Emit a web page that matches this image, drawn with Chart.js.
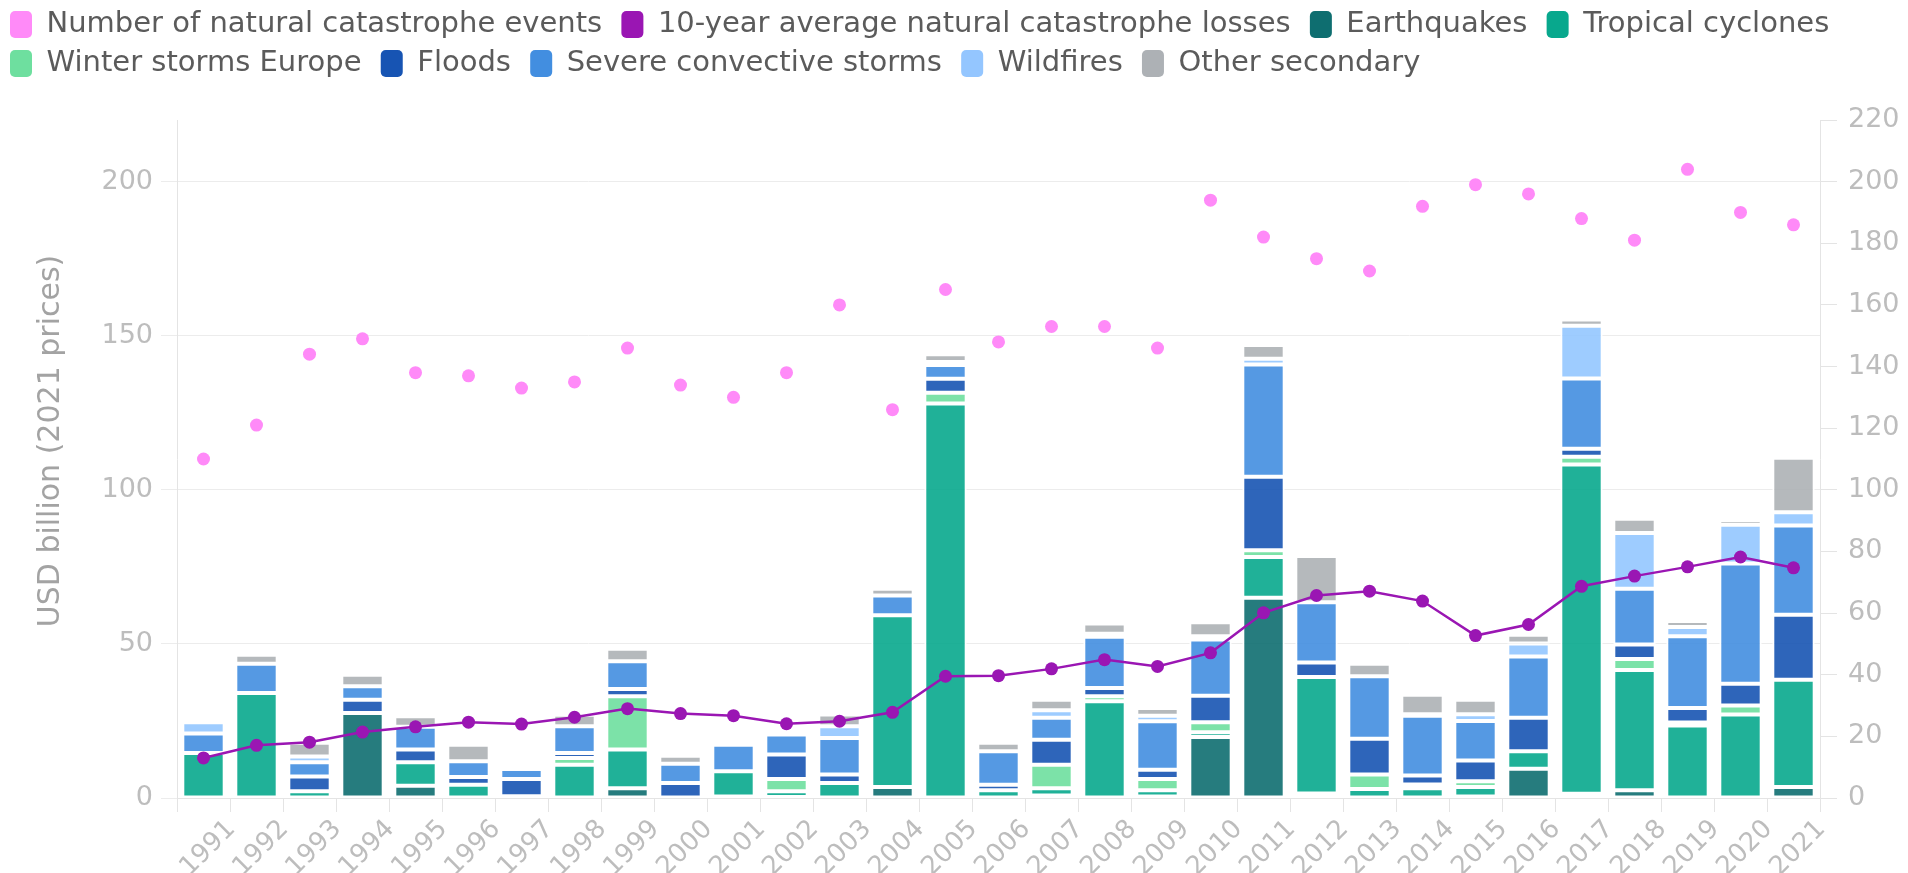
<!DOCTYPE html>
<html>
<head>
<meta charset="utf-8">
<title>Natural catastrophe losses</title>
<script src="https://cdn.jsdelivr.net/npm/chart.js@4.4.1/dist/chart.umd.min.js"></script>
<style>
  html, body { margin: 0; padding: 0; background: #fff; }
</style>
</head>
<body>
<canvas id="catChart" width="1908" height="873"></canvas>
<script>
// Insured losses by peril, USD billion (2021 prices)
const years = ['1991','1992','1993','1994','1995','1996','1997','1998','1999','2000',
  '2001','2002','2003','2004','2005','2006','2007','2008','2009','2010',
  '2011','2012','2013','2014','2015','2016','2017','2018','2019','2020','2021'];

const eventCount = [110,121,144,149,138,137,133,135,146,134,130,138,160,126,165,148,153,153,146,194,
  182,175,171,192,199,196,188,181,204,190,186];
const tenYearAvg = [13.0,17.1,18.1,21.4,23.1,24.6,24.0,26.2,29.0,27.4,26.7,24.1,24.9,27.8,39.5,39.7,41.9,44.9,42.7,47.1,
  60.1,65.7,67.1,63.9,52.7,56.3,68.7,72.0,75.0,78.2,74.7];

const earthquakes = [0,0,0,27.6,4,0,0,0,3.2,0,0.5,0.3,0,3.6,0,0,0.8,0,0.5,19.8,
  65,1.5,0,0,0.5,9.5,1.4,2.5,0,0,3.6];
const tropicalCyclones = [14.6,34.1,2.2,0,7.6,4.3,0.6,10.8,12.5,0,8.2,1.9,4.9,55.7,128,2.5,2.4,31.4,2.0,1.5,
  13.2,37.8,2.9,3.2,3.1,5.7,106.8,39,23.5,27.1,34.8];
const winterStorms = [0,0,0,0,0,0,0,2.2,17.3,0,0,4.0,0,0,3.5,0,7.6,1.6,3.7,3.3,
  2.2,0,4.7,1.2,1.8,0,2.5,3.6,1.0,2.9,0];
const floods = [0,0,4.8,4.3,4.1,2.5,5.6,1.6,2.4,4.9,0,7.9,2.7,0,4.5,1.8,8.1,2.7,3.0,8.6,
  23.8,4.7,11.6,2.9,6.8,10.8,2.6,4.7,4.7,7.1,21.1];
const severeStorms = [6.3,9.5,4.6,4.4,7.4,5.1,3.2,8.7,9.0,6.2,8.6,6.5,11.9,6.4,4.5,10.9,7.1,16.6,15.7,18.2,
  36.5,19.5,20.3,19.4,12.8,19.9,22.8,18.1,23.3,39.0,28.9];
const wildfires = [3.7,0,1.9,0,0,0,0,0,0,0,0,0.9,3.8,0,1,0,2.5,1.0,1.8,1.1,
  1.8,0,0,0.5,2.2,4.2,17.1,18.1,3.0,12.6,4.3];
const otherSecondary = [1.0,2.9,4.4,3.7,3.4,5.4,0,3.7,4.0,2.6,0,1.1,3.8,2.2,2.5,2.7,3.4,3.3,2.5,4.5,
  4.5,15,4.1,6.3,4.7,2.9,2.1,4.6,1.9,1.5,17.7];

const leftTicks = [0, 50, 100, 150, 200];
const rightTicks = [0, 20, 40, 60, 80, 100, 120, 140, 160, 180, 200, 220];
const yTitle = 'USD billion (2021 prices)';

// solid colours used in the legend, bars get them slightly faded
const colors = {
  events: '#ff8af8',
  average: '#9a16b3',
  earthquakes: '#0e6e70',
  cyclones: '#08a88d',
  winter: '#6edf9f',
  floods: '#1754b3',
  severe: '#428ee0',
  wildfires: '#94c6ff',
  other: '#adb1b5',
};

function fade(hex, alpha) {
  const n = parseInt(hex.slice(1), 16);
  return `rgba(${(n >> 16) & 255}, ${(n >> 8) & 255}, ${n & 255}, ${alpha})`;
}

function barSet(label, data, color) {
  return {
    type: 'bar',
    label: label,
    data: data,
    backgroundColor: fade(color, 0.9),
    legendColor: color,
    borderColor: '#ffffff',
    borderWidth: 2,
    borderSkipped: false,
    barPercentage: 0.8,
    categoryPercentage: 1,
    yAxisID: 'y',
  };
}

Chart.defaults.font.family = "'DejaVu Sans', sans-serif";

// keeps a fixed band between the legend and the plot
const legendGap = {
  id: 'legendGap',
  beforeInit(chart) {
    const fitLegend = chart.legend.fit;
    chart.legend.fit = function () {
      fitLegend.bind(chart.legend)();
      this.height = 120;
    };
  },
};

// rotated title for the left axis, sits a little above the axis middle
const axisTitle = {
  id: 'axisTitle',
  afterDraw(chart) {
    const { ctx, chartArea } = chart;
    const yScale = chart.scales.y;
    ctx.save();
    ctx.translate(yScale.left + 51, (chartArea.top + chartArea.bottom) / 2 - 18);
    ctx.rotate(-Math.PI / 2);
    ctx.font = "30px 'DejaVu Sans', sans-serif";
    ctx.fillStyle = '#a3a3a3';
    ctx.textAlign = 'center';
    ctx.textBaseline = 'middle';
    ctx.fillText(yTitle, 0, 0);
    ctx.restore();
  },
};

new Chart(document.getElementById('catChart'), {
  data: {
    labels: years,
    datasets: [
      {
        type: 'line',
        label: 'Number of natural catastrophe events',
        data: eventCount,
        showLine: false,
        backgroundColor: colors.events,
        borderColor: colors.events,
        legendColor: colors.events,
        pointRadius: 6.5,
        pointBorderWidth: 0,
        yAxisID: 'y1',
      },
      {
        type: 'line',
        label: '10-year average natural catastrophe losses',
        data: tenYearAvg,
        borderColor: colors.average,
        backgroundColor: colors.average,
        legendColor: colors.average,
        borderWidth: 2.5,
        tension: 0,
        pointRadius: 6.5,
        pointBorderWidth: 0,
        yAxisID: 'y',
      },
      barSet('Earthquakes', earthquakes, colors.earthquakes),
      barSet('Tropical cyclones', tropicalCyclones, colors.cyclones),
      barSet('Winter storms Europe', winterStorms, colors.winter),
      barSet('Floods', floods, colors.floods),
      barSet('Severe convective storms', severeStorms, colors.severe),
      barSet('Wildfires', wildfires, colors.wildfires),
      barSet('Other secondary', otherSecondary, colors.other),
    ],
  },
  options: {
    responsive: false,
    animation: false,
    devicePixelRatio: 1,
    layout: { padding: 0 },
    plugins: {
      tooltip: { enabled: false },
      legend: {
        position: 'top',
        align: 'start',
        labels: {
          boxWidth: 22,
          boxHeight: 27,
          padding: 10,
          color: '#5b5b5b',
          font: { size: 29 },
          generateLabels(chart) {
            return chart.data.datasets.map((ds, i) => ({
              text: ds.label + ' ',
              fillStyle: ds.legendColor,
              strokeStyle: ds.legendColor,
              lineWidth: 0,
              borderRadius: 5,
              fontColor: '#5b5b5b',
              hidden: !chart.isDatasetVisible(i),
              datasetIndex: i,
            }));
          },
        },
      },
    },
    scales: {
      x: {
        stacked: true,
        grid: { drawOnChartArea: false, tickLength: 14, color: '#e4e4e4' },
        border: { color: '#e4e4e4' },
        ticks: {
          color: '#bdbdbd',
          font: { size: 26 },
          minRotation: 45,
          maxRotation: 45,
          autoSkip: false,
          padding: 2,
          labelOffset: 28,
        },
        afterFit(scale) { scale.height = 75; },
      },
      y: {
        stacked: true,
        position: 'left',
        min: 0,
        max: 220,
        afterBuildTicks(scale) { scale.ticks = leftTicks.map(v => ({ value: v })); },
        ticks: { color: '#bdbdbd', font: { size: 27 }, padding: 8 },
        grid: { color: '#ececec', tickLength: 16 },
        border: { color: '#e4e4e4' },
        afterFit(scale) { scale.width = 177; },
      },
      y1: {
        position: 'right',
        min: 0,
        max: 220,
        afterBuildTicks(scale) { scale.ticks = rightTicks.map(v => ({ value: v })); },
        ticks: { color: '#bdbdbd', font: { size: 27 }, padding: 11 },
        grid: { drawOnChartArea: false, tickLength: 17, color: '#e4e4e4' },
        border: { color: '#e4e4e4' },
        afterFit(scale) { scale.width = 88; },
      },
    },
  },
  plugins: [legendGap, axisTitle],
});
</script>
</body>
</html>
